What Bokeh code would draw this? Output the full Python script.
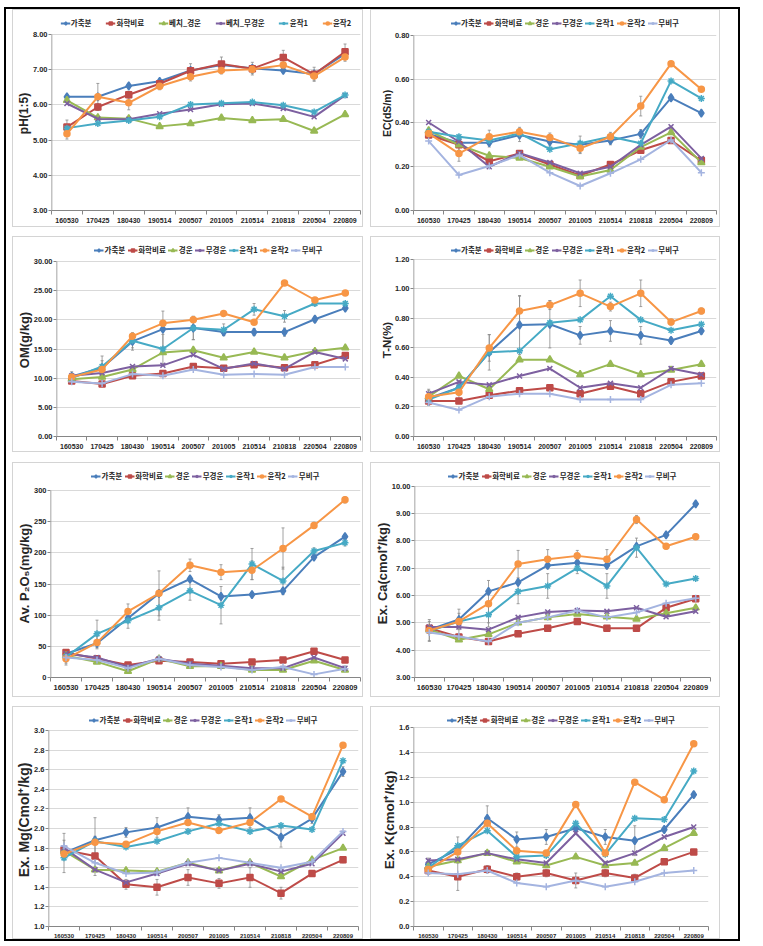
import numpy as np
from bokeh.plotting import figure
from bokeh.models import (ColumnDataSource, Legend, LegendItem, FixedTicker,
                          PrintfTickFormatter, Whisker, TeeHead, Range1d)
from bokeh.layouts import row, column
from bokeh.embed import file_html
from bokeh.resources import INLINE

# ---------------- data ----------------
dates = ["160530", "170425", "180430", "190514", "200507",
         "201005", "210514", "210818", "220504", "220809"]

names_ph = ["가축분", "화학비료", "베치_경운", "베치_무경운", "윤작1", "윤작2"]
names7 = ["가축분", "화학비료", "경운", "무경운", "윤작1", "윤작2", "무비구"]

# pH(1:5)
ph_manure = [6.23, 6.23, 6.54, 6.67, 6.98, 7.13, 7.04, 6.98, 6.88, 7.45]
ph_chem = [5.37, 5.94, 6.29, 6.60, 6.97, 7.16, 7.03, 7.35, 6.87, 7.51]
ph_till = [6.13, 5.64, 5.61, 5.39, 5.47, 5.63, 5.56, 5.59, 5.26, 5.73]
ph_notill = [6.04, 5.60, 5.59, 5.75, 5.87, 6.02, 6.04, 5.90, 5.66, 6.27]
ph_rot1 = [5.34, 5.47, 5.56, 5.66, 6.01, 6.05, 6.08, 5.99, 5.80, 6.28]
ph_rot2 = [5.18, 6.23, 6.06, 6.53, 6.80, 6.98, 7.01, 7.13, 6.82, 7.36]
ph_err_chem = [0.20, 0.10, 0.10, 0.12, 0.20, 0.20, 0.18, 0.20, 0.20, 0.22]
ph_err_rot2 = [0.15, 0.38, 0.20, 0.10, 0.12, 0.10, 0.12, 0.12, 0.12, 0.12]

# EC(dS/m)
ec_manure = [0.350, 0.310, 0.310, 0.345, 0.315, 0.300, 0.320, 0.350, 0.515, 0.445]
ec_chem = [0.345, 0.300, 0.225, 0.260, 0.210, 0.160, 0.210, 0.275, 0.320, 0.228]
ec_till = [0.365, 0.300, 0.250, 0.240, 0.200, 0.155, 0.185, 0.290, 0.357, 0.219]
ec_notill = [0.402, 0.314, 0.200, 0.262, 0.219, 0.170, 0.200, 0.300, 0.383, 0.238]
ec_rot1 = [0.360, 0.337, 0.320, 0.352, 0.280, 0.307, 0.337, 0.307, 0.592, 0.512]
ec_rot2 = [0.352, 0.260, 0.337, 0.360, 0.334, 0.284, 0.337, 0.477, 0.671, 0.554]
ec_none = [0.317, 0.162, 0.203, 0.253, 0.173, 0.112, 0.170, 0.234, 0.322, 0.173]
ec_err_manure = [0.02, 0.035, 0.02, 0.03, 0.02, 0.04, 0.02, 0.02, 0.01, 0.01]
ec_err_rot2 = [0.02, 0.035, 0.03, 0.02, 0.02, 0.02, 0.02, 0.045, 0.01, 0.01]

# OM(g/kg)
om_manure = [10.3, 11.8, 16.3, 18.4, 18.6, 17.9, 17.9, 17.9, 20.1, 22.0]
om_chem = [9.5, 9.0, 10.4, 10.8, 12.0, 11.7, 12.3, 11.8, 12.3, 13.9]
om_till = [9.8, 10.2, 11.5, 14.4, 14.8, 13.5, 14.5, 13.5, 14.6, 15.2]
om_notill = [10.4, 10.9, 12.0, 12.2, 14.0, 11.6, 12.5, 11.6, 14.5, 13.3]
om_rot1 = [10.0, 12.0, 16.4, 15.0, 18.6, 18.3, 21.8, 20.6, 22.8, 22.8]
om_rot2 = [10.2, 11.5, 17.2, 19.4, 20.0, 21.1, 19.6, 26.3, 23.4, 24.6]
om_none = [9.4, 9.1, 10.7, 10.4, 11.5, 10.6, 10.7, 10.6, 11.9, 11.9]
om_err_manure = [0.8, 2.0, 1.5, 3.1, 2.0, 0.6, 0.6, 0.7, 0.5, 0.4]
om_err_rot1 = [0.5, 1.0, 1.2, 2.5, 2.0, 1.0, 1.0, 1.0, 0.4, 0.3]

# T-N(%)
tn_manure = [0.26, 0.33, 0.57, 0.755, 0.76, 0.685, 0.715, 0.685, 0.65, 0.715]
tn_chem = [0.24, 0.24, 0.28, 0.31, 0.33, 0.29, 0.34, 0.29, 0.37, 0.41]
tn_till = [0.27, 0.41, 0.32, 0.52, 0.52, 0.42, 0.49, 0.42, 0.45, 0.49]
tn_notill = [0.29, 0.37, 0.35, 0.41, 0.46, 0.33, 0.36, 0.33, 0.46, 0.42]
tn_rot1 = [0.25, 0.33, 0.57, 0.58, 0.77, 0.79, 0.95, 0.79, 0.72, 0.76]
tn_rot2 = [0.27, 0.30, 0.60, 0.85, 0.89, 0.97, 0.88, 0.97, 0.775, 0.85]
tn_none = [0.23, 0.18, 0.27, 0.29, 0.29, 0.25, 0.25, 0.25, 0.35, 0.36]
tn_err_manure = [0.05, 0.05, 0.12, 0.20, 0.16, 0.06, 0.07, 0.06, 0.02, 0.02]
tn_err_rot2 = [0.05, 0.05, 0.09, 0.10, 0.03, 0.09, 0.03, 0.09, 0.02, 0.02]

# Av. P2O5(mg/kg)
p_manure = [38, 55, 95, 135, 158, 130, 133, 139, 193, 226]
p_chem = [40, 30, 20, 27, 25, 22, 25, 28, 42, 28]
p_till = [35, 25, 10, 30, 18, 18, 12, 12, 27, 12]
p_notill = [38, 32, 17, 30, 22, 19, 15, 15, 32, 15]
p_rot1 = [33, 70, 91, 112, 139, 116, 182, 155, 203, 216]
p_rot2 = [30, 56, 106, 135, 180, 169, 172, 207, 244, 285]
p_none = [32, 28, 15, 30, 20, 17, 12, 17, 5, 14]
p_err_rot1 = [10, 22, 12, 20, 15, 30, 25, 22, 5, 5]
p_err_rot2 = [10, 10, 12, 36, 10, 12, 15, 33, 5, 5]

# Ex. Ca(cmol+/kg)
ca_manure = [4.75, 5.12, 6.15, 6.48, 7.10, 7.20, 7.10, 7.80, 8.22, 9.35]
ca_chem = [4.80, 4.48, 4.32, 4.60, 4.80, 5.05, 4.80, 4.80, 5.55, 5.88]
ca_till = [4.75, 4.38, 4.58, 5.00, 5.20, 5.32, 5.22, 5.14, 5.35, 5.55]
ca_notill = [4.85, 4.85, 4.75, 5.20, 5.40, 5.45, 5.42, 5.55, 5.22, 5.42]
ca_rot1 = [4.70, 5.05, 5.30, 6.15, 6.35, 7.00, 6.35, 7.75, 6.42, 6.62]
ca_rot2 = [4.72, 5.05, 5.70, 7.15, 7.33, 7.45, 7.33, 8.78, 7.80, 8.15]
ca_none = [4.65, 4.50, 4.32, 5.00, 5.20, 5.45, 5.20, 5.38, 5.72, 5.90]
ca_err_rot1 = [0.35, 0.30, 0.30, 0.45, 0.45, 0.20, 0.45, 0.35, 0.05, 0.05]
ca_err_rot2 = [0.40, 0.45, 0.85, 0.50, 0.35, 0.20, 0.35, 0.15, 0.10, 0.10]

# Ex. Mg(Cmol+/kg)
mg_manure = [1.75, 1.88, 1.96, 2.01, 2.12, 2.09, 2.11, 1.91, 2.10, 2.58]
mg_chem = [1.78, 1.72, 1.43, 1.40, 1.50, 1.44, 1.50, 1.34, 1.54, 1.68]
mg_till = [1.77, 1.58, 1.57, 1.56, 1.65, 1.57, 1.65, 1.51, 1.68, 1.80]
mg_notill = [1.80, 1.58, 1.45, 1.54, 1.64, 1.57, 1.64, 1.56, 1.64, 1.95]
mg_rot1 = [1.70, 1.87, 1.81, 1.87, 1.97, 2.05, 1.97, 2.03, 1.99, 2.69]
mg_rot2 = [1.74, 1.86, 1.84, 1.97, 2.06, 1.98, 2.06, 2.30, 2.12, 2.85]
mg_none = [1.82, 1.65, 1.54, 1.55, 1.65, 1.70, 1.65, 1.60, 1.66, 1.97]
mg_err_manure = [0.20, 0.23, 0.05, 0.10, 0.09, 0.05, 0.10, 0.10, 0.05, 0.05]
mg_err_chem = [0.10, 0.20, 0.05, 0.08, 0.08, 0.05, 0.10, 0.06, 0.03, 0.03]

# Ex. K(cmol+/kg)
k_manure = [0.50, 0.62, 0.87, 0.70, 0.72, 0.79, 0.72, 0.69, 0.78, 1.06]
k_chem = [0.45, 0.40, 0.46, 0.40, 0.43, 0.37, 0.43, 0.39, 0.52, 0.60]
k_till = [0.48, 0.53, 0.59, 0.52, 0.49, 0.56, 0.49, 0.51, 0.63, 0.75]
k_notill = [0.53, 0.54, 0.59, 0.54, 0.51, 0.75, 0.51, 0.59, 0.72, 0.80]
k_rot1 = [0.47, 0.65, 0.77, 0.56, 0.57, 0.83, 0.58, 0.87, 0.86, 1.25]
k_rot2 = [0.46, 0.60, 0.83, 0.61, 0.59, 0.98, 0.59, 1.16, 1.02, 1.47]
k_none = [0.43, 0.42, 0.45, 0.35, 0.32, 0.37, 0.32, 0.36, 0.43, 0.45]
k_err_manure = [0.05, 0.10, 0.10, 0.06, 0.06, 0.04, 0.06, 0.12, 0.02, 0.02]
k_err_chem = [0.03, 0.11, 0.03, 0.03, 0.03, 0.06, 0.03, 0.03, 0.02, 0.02]

panels = [
    dict(names=names_ph, data=[ph_manure, ph_chem, ph_till, ph_notill, ph_rot1, ph_rot2],
         errs={1: ph_err_chem, 5: ph_err_rot2}, ylabel="pH(1:5)",
         ymin=3.0, ymax=8.0, step=1.0, fmt="%.2f"),
    dict(names=names7, data=[ec_manure, ec_chem, ec_till, ec_notill, ec_rot1, ec_rot2, ec_none],
         errs={0: ec_err_manure, 5: ec_err_rot2}, ylabel="EC(dS/m)",
         ymin=0.0, ymax=0.8, step=0.2, fmt="%.2f"),
    dict(names=names7, data=[om_manure, om_chem, om_till, om_notill, om_rot1, om_rot2, om_none],
         errs={0: om_err_manure, 4: om_err_rot1}, ylabel="OM(g/kg)",
         ymin=0.0, ymax=30.0, step=5.0, fmt="%.2f"),
    dict(names=names7, data=[tn_manure, tn_chem, tn_till, tn_notill, tn_rot1, tn_rot2, tn_none],
         errs={0: tn_err_manure, 5: tn_err_rot2}, ylabel="T-N(%)",
         ymin=0.0, ymax=1.2, step=0.2, fmt="%.2f"),
    dict(names=names7, data=[p_manure, p_chem, p_till, p_notill, p_rot1, p_rot2, p_none],
         errs={4: p_err_rot1, 5: p_err_rot2}, ylabel="Av. P₂O₅(mg/kg)",
         ymin=0, ymax=300, step=50, fmt="%d"),
    dict(names=names7, data=[ca_manure, ca_chem, ca_till, ca_notill, ca_rot1, ca_rot2, ca_none],
         errs={4: ca_err_rot1, 5: ca_err_rot2}, ylabel="Ex. Ca(cmol⁺/kg)",
         ymin=3.0, ymax=10.0, step=1.0, fmt="%.2f"),
    dict(names=names7, data=[mg_manure, mg_chem, mg_till, mg_notill, mg_rot1, mg_rot2, mg_none],
         errs={0: mg_err_manure, 1: mg_err_chem}, ylabel="Ex. Mg(Cmol⁺/kg)",
         ymin=1.0, ymax=3.0, step=0.2, fmt="%.1f"),
    dict(names=names7, data=[k_manure, k_chem, k_till, k_notill, k_rot1, k_rot2, k_none],
         errs={0: k_err_manure, 1: k_err_chem}, ylabel="Ex. K(cmol⁺/kg)",
         ymin=0.0, ymax=1.6, step=0.2, fmt="%.1f"),
]

# ---------------- styles / layout ----------------
COLORS = ["#4a7ebb", "#be4b48", "#98b954", "#7d60a0", "#46aac5", "#f79646", "#a4b4e0"]
MARKERS = ["diamond", "square", "triangle", "x", "asterisk", "circle", "cross"]
MSIZES = [8, 6, 7, 7, 7, 6, 7]

# w/h: panel size; bl/br: left/right border; T: panel top to top gridline; B: bottom border
boxes = [
    dict(w=351, h=218, bl=33, br=4, T=24, B=18, xfs="7px", lfs="12px", sp=14),
    dict(w=350, h=218, bl=42, br=5, T=25, B=17, xfs="7px", lfs="10.5px", sp=2),
    dict(w=351, h=216, bl=42, br=4, T=24, B=17, xfs="7px", lfs="13px", sp=2),
    dict(w=350, h=216, bl=42, br=5, T=22, B=15, xfs="7px", lfs="11.5px", sp=2),
    dict(w=351, h=235, bl=33, br=4, T=27, B=21, xfs="7.5px", lfs="13px", sp=2),
    dict(w=350, h=235, bl=40, br=11, T=23, B=17, xfs="7.5px", lfs="13px", sp=2),
    dict(w=351, h=233, bl=35, br=6, T=23, B=13, xfs="6px", lfs="14px", sp=2),
    dict(w=350, h=233, bl=42, br=13, T=20, B=14, xfs="6px", lfs="13.5px", sp=2),
]
TOP_PAD = 6

TICK_FONT = "Liberation Sans"
LEG_FONT = "Noto Sans CJK KR"
AXIS_GREY = "#868686"


def make_panel(spec, box):
    n = len(dates)
    ymin, ymax = spec["ymin"], spec["ymax"]
    data_px = box["h"] - box["T"] - box["B"]
    leg_px = box["T"] - TOP_PAD
    ytop = ymax + (ymax - ymin) * leg_px / data_px

    p = figure(width=box["w"], height=box["h"],
               x_range=Range1d(0, n), y_range=Range1d(ymin, ytop),
               output_backend="svg", toolbar_location=None, tools="",
               min_border_left=box["bl"], min_border_right=box["br"],
               min_border_top=TOP_PAD, min_border_bottom=box["B"],
               styles={"border": "1px solid #d4d4d4", "box-sizing": "border-box"})
    p.outline_line_color = None
    p.background_fill_color = "white"
    p.border_fill_color = "white"

    xs = [i + 0.5 for i in range(n)]

    # y axis line only up to the top gridline
    p.segment(x0=[0], y0=[ymin], x1=[0], y1=[ymax], line_color=AXIS_GREY, line_width=1.5)

    items = []
    for k, (name, vals) in enumerate(zip(spec["names"], spec["data"])):
        d = dict(x=xs, y=vals)
        if k in spec["errs"]:
            e = spec["errs"][k]
            d["lo"] = [v - er for v, er in zip(vals, e)]
            d["hi"] = [v + er for v, er in zip(vals, e)]
        src = ColumnDataSource(d)
        if k in spec["errs"]:
            w = Whisker(source=src, base="x", lower="lo", upper="hi",
                        line_color="#8a8a8a", line_width=0.8,
                        upper_head=TeeHead(size=3, line_color="#8a8a8a", line_width=0.8),
                        lower_head=TeeHead(size=3, line_color="#8a8a8a", line_width=0.8))
            p.add_layout(w)
        ln = p.line("x", "y", source=src, line_color=COLORS[k], line_width=2)
        mk = p.scatter("x", "y", source=src, marker=MARKERS[k], size=MSIZES[k],
                       fill_color=COLORS[k], line_color=COLORS[k], line_width=1.5)
        items.append(LegendItem(label=name, renderers=[ln, mk]))

    leg = Legend(items=items, orientation="horizontal", location="top_center",
                 label_text_font=LEG_FONT, label_text_font_size="7.5px",
                 label_text_font_style="bold", label_text_color="#262626",
                 glyph_width=10, glyph_height=8, label_height=8, label_width=10,
                 label_standoff=1, spacing=box["sp"], padding=0, margin=1,
                 border_line_color=None, background_fill_alpha=0)
    p.add_layout(leg)

    # x axis: labels at category centres, tick marks between categories
    p.xaxis.ticker = FixedTicker(ticks=xs, minor_ticks=list(range(n + 1)))
    p.xaxis.major_label_overrides = {x: d for x, d in zip(xs, dates)}
    p.xaxis.major_tick_line_color = None
    p.xaxis.minor_tick_line_color = AXIS_GREY
    p.xaxis.minor_tick_in = 0
    p.xaxis.minor_tick_out = 4
    p.xaxis.axis_line_color = AXIS_GREY
    p.xaxis.major_label_text_font = TICK_FONT
    p.xaxis.major_label_text_font_size = box["xfs"]
    p.xaxis.major_label_text_font_style = "bold"
    p.xaxis.major_label_text_color = "#262626"
    p.xaxis.major_label_standoff = 1
    p.xgrid.visible = False

    yt = [round(v, 4) for v in np.arange(ymin, ymax + spec["step"] / 2, spec["step"])]
    p.yaxis.ticker = FixedTicker(ticks=yt, minor_ticks=[])
    p.yaxis.formatter = PrintfTickFormatter(format=spec["fmt"])
    p.yaxis.axis_line_color = None
    p.yaxis.major_tick_line_color = AXIS_GREY
    p.yaxis.major_tick_in = 0
    p.yaxis.major_tick_out = 3
    p.yaxis.minor_tick_line_color = None
    p.yaxis.major_label_text_font = TICK_FONT
    p.yaxis.major_label_text_font_size = "7.5px"
    p.yaxis.major_label_text_font_style = "bold"
    p.yaxis.major_label_text_color = "#262626"
    p.yaxis.major_label_standoff = 1
    p.yaxis.axis_label = spec["ylabel"]
    p.yaxis.axis_label_text_font = TICK_FONT
    p.yaxis.axis_label_text_font_size = box["lfs"]
    p.yaxis.axis_label_text_font_style = "bold"
    p.yaxis.axis_label_text_color = "#262626"
    p.yaxis.axis_label_standoff = -1
    p.ygrid.grid_line_color = "#d9d9d9"
    p.ygrid.grid_line_width = 1
    return p


figs = [make_panel(s, b) for s, b in zip(panels, boxes)]

rows = [row(figs[0], figs[1], spacing=7, margin=(0, 18, 0, 6)),
        row(figs[2], figs[3], spacing=7, margin=(0, 18, 0, 6)),
        row(figs[4], figs[5], spacing=7, margin=(1, 18, 0, 6)),
        row(figs[6], figs[7], spacing=7, margin=(0, 18, 0, 6))]
layout = column(*rows, spacing=9, margin=(7, 0, 0, 4),
                styles={"border": "2px solid black"})

open("out.html", "w").write(file_html(layout, INLINE))
